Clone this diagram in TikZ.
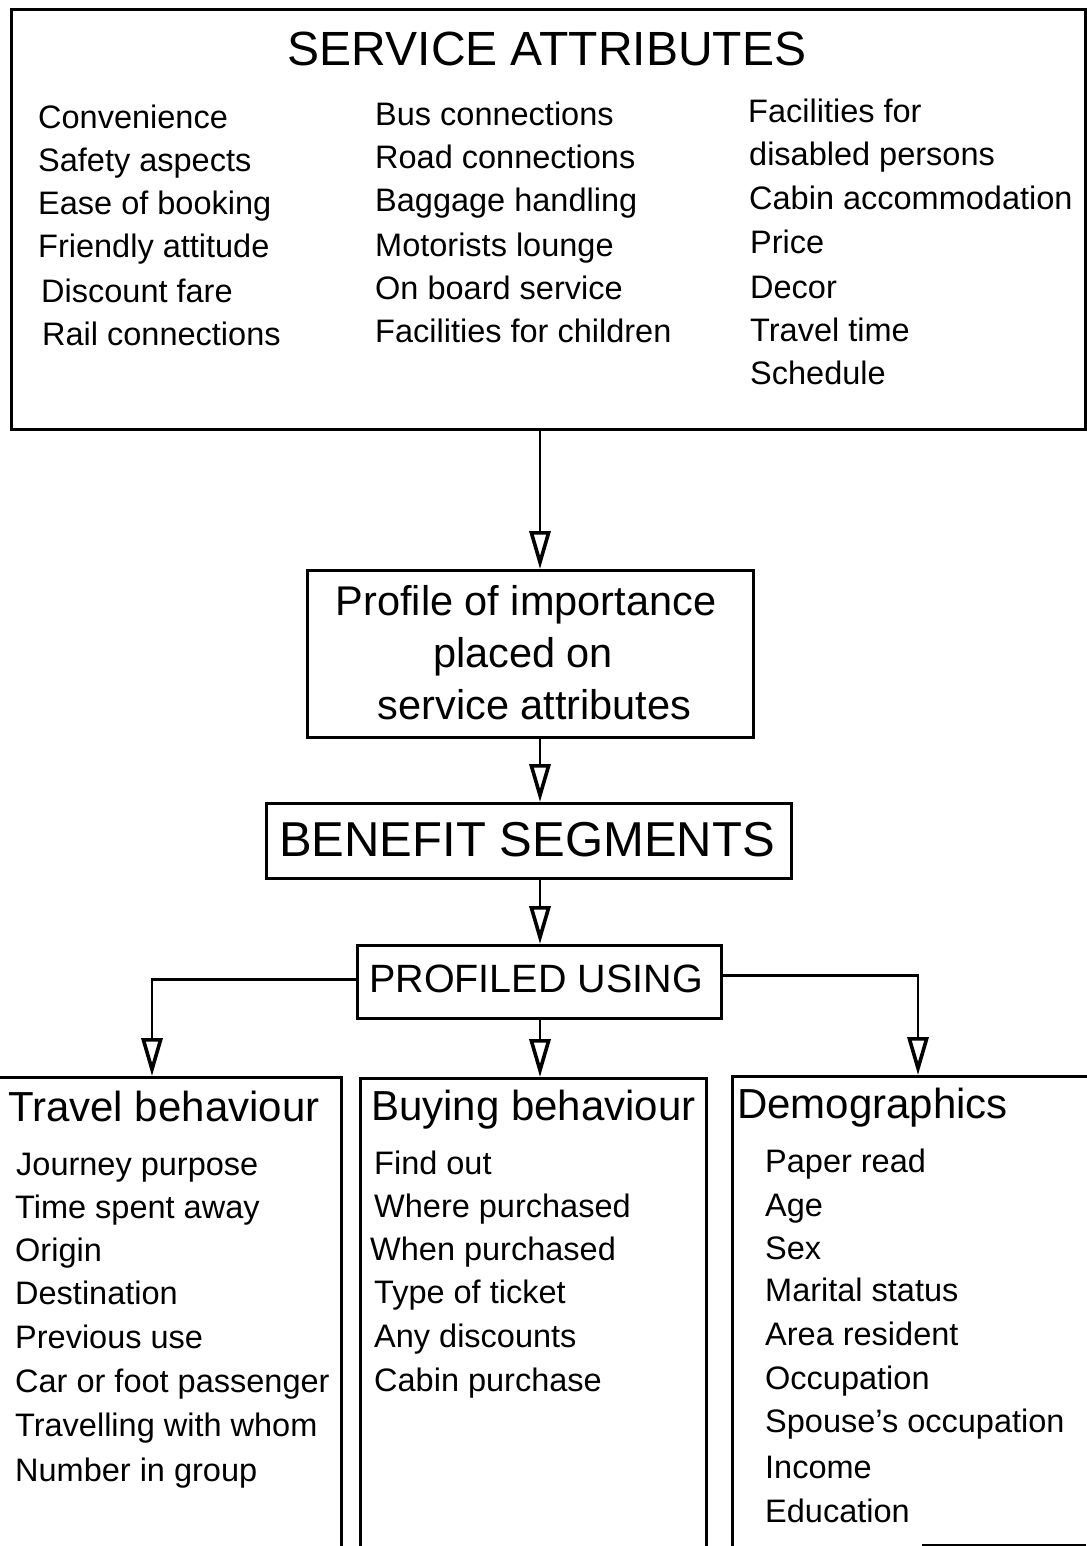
\documentclass[tikz,border=0pt]{standalone}
\usepackage{fontspec}
\setmainfont{Liberation Sans}
\usetikzlibrary{arrows.meta}
\begin{document}
\begin{tikzpicture}[x=1pt,y=-1pt,
  box/.style={draw, line width=2.8pt, rectangle, inner sep=0pt, anchor=north west},
  item/.style={font=\fontsize{32.5}{39}\selectfont, anchor=base west, inner sep=0pt},
  head/.style={font=\fontsize{42}{50}\selectfont, anchor=base west, inner sep=0pt},
  ctext/.style={anchor=base, inner sep=0pt},
  arr/.style={line width=2.8pt, -{Triangle[open, length=38pt, width=21pt, line width=3.6pt]}}]
\useasboundingbox (0,0) rectangle (1086,1546);

% boxes
\node[box, minimum width=1074pt, minimum height=420pt] (attr) at (10,8) {};
\node[box, minimum width=446pt, minimum height=167pt] (prof) at (306,569) {};
\node[box, minimum width=525pt, minimum height=75pt] (ben) at (265,802) {};
\node[box, minimum width=364pt, minimum height=73pt] (pu) at (356,944) {};
\node[box, minimum width=360pt, minimum height=600pt] (travel) at (-20,1076) {};
\node[box, minimum width=346pt, minimum height=600pt] (buy) at (359,1077) {};
\node[box, minimum width=400pt, minimum height=600pt] (demo) at (731,1075) {};
\draw[line width=2pt] (922,1545) -- (1086,1545);

% connectors
\coordinate (cx) at (540,0);
\coordinate (tl) at (152,0);
\coordinate (tr) at (918,0);
\draw[arr] (attr.south -| cx) -- (prof.north -| cx);
\draw[arr] (prof.south -| cx) -- (ben.north -| cx);
\draw[arr] (ben.south -| cx) -- (pu.north -| cx);
\draw[arr] (pu.south -| cx) -- (buy.north -| cx);
\draw[arr] ([yshift=2.5pt]pu.west) -| (travel.north -| tl);
\draw[arr] ([yshift=6.5pt]pu.east) -| (demo.north -| tr);

% service attributes
\node[ctext, font=\fontsize{48}{56}\selectfont] (title) at (547,66) {SERVICE ATTRIBUTES};
\foreach \t/\x/\y [count=\i] in {Convenience/38/129, Safety aspects/38/172,
    Ease of booking/38/215, Friendly attitude/38/258, Discount fare/41/302,
    Rail connections/42/345}
  \node[item] (ca\i) at (\x,\y) {\t};
\foreach \t/\x/\y [count=\i] in {Bus connections/375/126, Road connections/375/169,
    Baggage handling/375/212, Motorists lounge/375/256, On board service/375/299,
    Facilities for children/375/342}
  \node[item] (cb\i) at (\x,\y) {\t};
\foreach \t/\x/\y [count=\i] in {Facilities for/748/123, disabled persons/749/166,
    Cabin accommodation/749/210, Price/750/254, Decor/750/298,
    Travel time/750/341, Schedule/750/384}
  \node[item] (cc\i) at (\x,\y) {\t};

% middle chain
\node[ctext, font=\fontsize{41.5}{50}\selectfont] (p1) at (526,615) {Profile of importance};
\node[ctext, font=\fontsize{41.5}{50}\selectfont] (p2) at (523,667) {placed on};
\node[ctext, font=\fontsize{41.5}{50}\selectfont] (p3) at (534.5,719) {service attributes};
\node[ctext, font=\fontsize{49}{56}\selectfont] (bt) at (527,856) {BENEFIT SEGMENTS};
\node[ctext, font=\fontsize{39.5}{46}\selectfont] (put) at (536,992) {PROFILED USING};

% profiles
\node[head] (th) at (8,1121) {Travel behaviour};
\node[head] (bh) at (371,1120) {Buying behaviour};
\node[head] (dh) at (737,1118) {Demographics};
\foreach \t/\x/\y [count=\i] in {Journey purpose/16/1175, Time spent away/15/1218,
    Origin/15/1261, Destination/15/1304, Previous use/15/1348,
    Car or foot passenger/15/1392, Travelling with whom/15/1436,
    Number in group/15/1481}
  \node[item] (t\i) at (\x,\y) {\t};
\foreach \t/\x/\y [count=\i] in {Find out/374/1174, Where purchased/374/1217,
    When purchased/370/1260, Type of ticket/374/1303, Any discounts/374/1347,
    Cabin purchase/374/1391}
  \node[item] (b\i) at (\x,\y) {\t};
\foreach \t/\x/\y [count=\i] in {Paper read/765/1172, Age/765/1216, Sex/765/1259,
    Marital status/765/1301, Area resident/765/1345, Occupation/765/1389,
    Spouse's occupation/765/1432, Income/765/1478, Education/765/1522}
  \node[item] (d\i) at (\x,\y) {\t};
\end{tikzpicture}
\end{document}
